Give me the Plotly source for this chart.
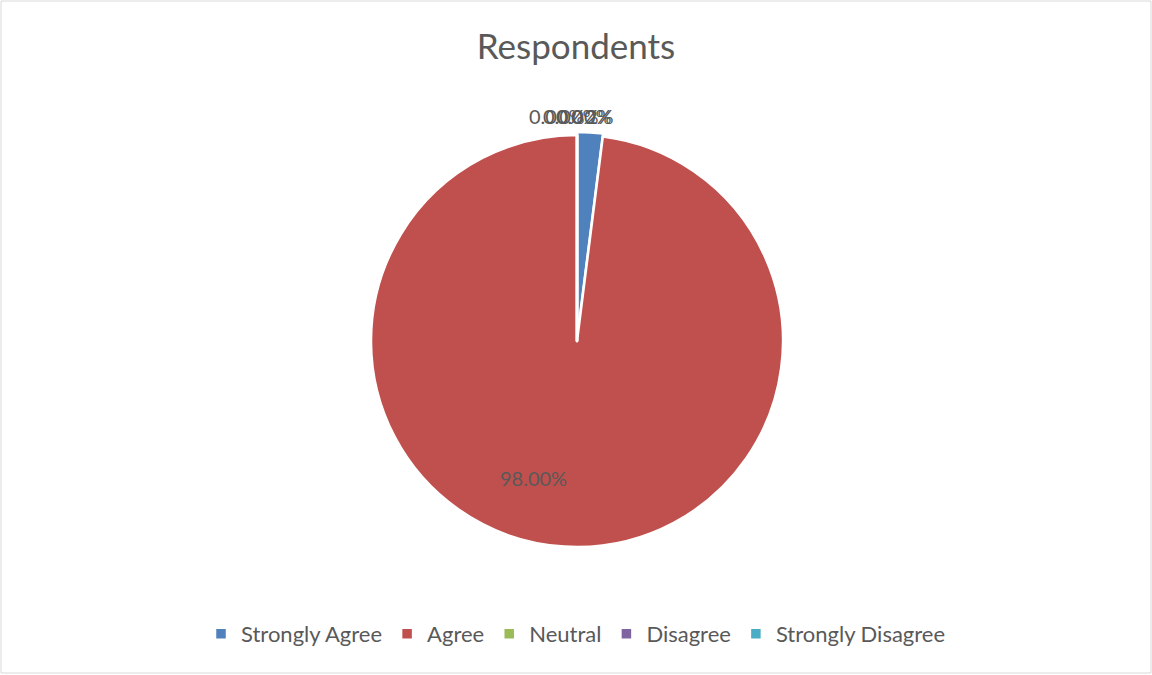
import plotly.graph_objects as go

# Survey responses
categories = ["Strongly Agree", "Agree", "Neutral", "Disagree", "Strongly Disagree"]
shares = [2, 98, 0, 0, 0]
label_texts = ["2%", "98.00%", "0.00%", "0.00%", "0.00%"]
colors = ["#4F81BD", "#C0504D", "#9BBB59", "#8064A2", "#4BACC6"]

W, H = 1152, 675
cx, cy = 577, 341
pull = 0.015
r = 206 * (1 + pull)
font = "Lato, 'Open Sans', sans-serif"
text_col = "#595959"

fig = go.Figure()
fig.add_trace(go.Pie(
    labels=categories,
    values=shares,
    marker=dict(colors=colors, line=dict(color="white", width=2.5)),
    sort=False,
    direction="clockwise",
    rotation=0,
    textinfo="none",
    pull=[pull, 0, 0, 0, 0],
    showlegend=True,
    hoverinfo="label+percent",
    domain=dict(x=[(cx - r) / W, (cx + r) / W], y=[(H - cy - r) / H, (H - cy + r) / H]),
))

# Data labels: large slice inside, small slices clustered at the top
label_font = dict(family=font, size=20, color=text_col)
fig.add_annotation(x=533 / W, y=1 - 478 / H, xref="paper", yref="paper",
                   xanchor="center", yanchor="middle",
                   text=label_texts[1], showarrow=False, font=label_font)
top_positions = [(600, 116), (557, 116), (571, 116), (584, 116)]
for idx, (px, py) in zip([0, 2, 3, 4], top_positions):
    fig.add_annotation(x=px / W, y=1 - py / H, xref="paper", yref="paper",
                       xanchor="center", yanchor="middle",
                       text=label_texts[idx], showarrow=False, font=label_font)

# Chart area outline
fig.add_shape(type="rect", xref="paper", yref="paper",
              x0=1 / W, y0=2 / H, x1=1151 / W, y1=1 - 1 / H,
              line=dict(color="#D9D9D9", width=1), fillcolor="rgba(0,0,0,0)")

fig.update_layout(
    width=W, height=H,
    margin=dict(l=0, r=0, t=0, b=0, autoexpand=False),
    paper_bgcolor="white",
    plot_bgcolor="white",
    title=dict(text="Respondents", x=0.5, xanchor="center", y=1 - 47 / H, yanchor="middle",
               font=dict(family=font, size=35, color=text_col)),
    legend=dict(orientation="h", x=0.5, xanchor="center", y=1 - 634 / H, yanchor="middle",
                font=dict(family=font, size=22, color=text_col),
                itemwidth=30, tracegroupgap=0),
)

fig.write_html("out.html")
